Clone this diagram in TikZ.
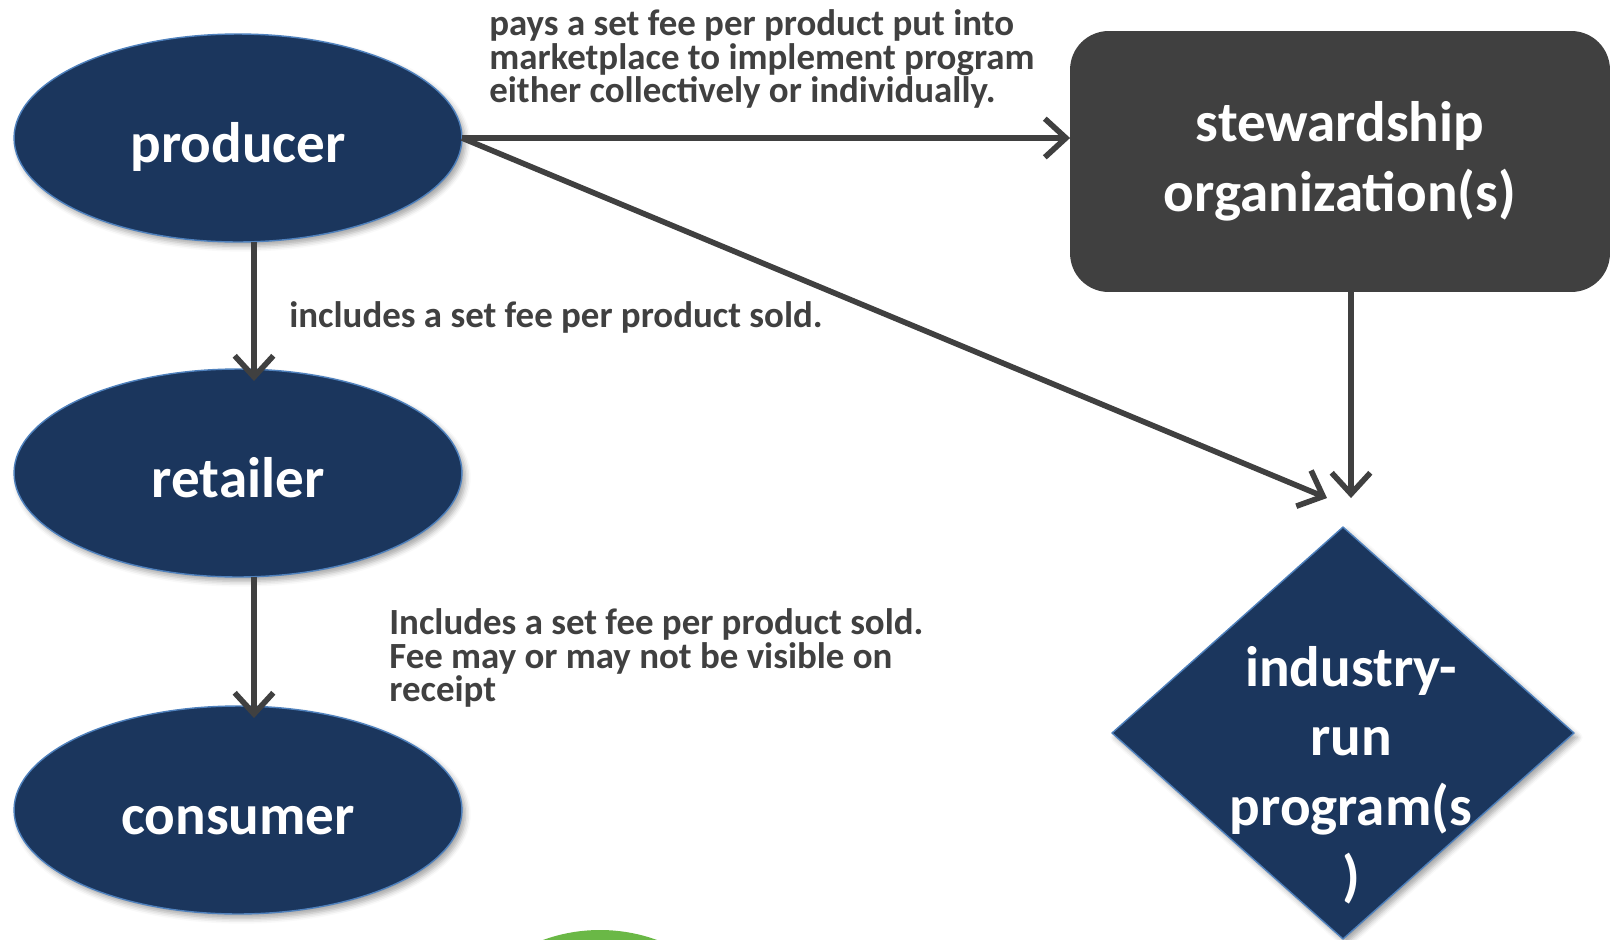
\documentclass[tikz,border=0pt]{standalone}
\usepackage{fontspec}
\setmainfont{Carlito}
\usetikzlibrary{shapes.geometric,arrows.meta,calc,shadows.blur}

\definecolor{navy}{RGB}{27,54,93}
\definecolor{rim}{RGB}{79,129,189}
\definecolor{charcoal}{RGB}{64,64,64}
\definecolor{leaf}{RGB}{106,184,70}

\tikzset{
  soft/.style={blur shadow={shadow xshift=2pt, shadow yshift=-2.5pt, shadow blur radius=3pt, shadow opacity=35}},
  actor/.style={ellipse, fill=navy, draw=rim, line width=0.8pt, soft,
    minimum width=8.96cm, minimum height=4.16cm, inner sep=0pt, outer sep=0pt,
    text height=28pt, text depth=0pt,
    text=white, font=\bfseries\fontsize{32.5}{40}\selectfont},
  board/.style={rectangle, rounded corners=22pt, fill=charcoal, align=center,
    minimum width=10.8cm, minimum height=5.22cm, inner sep=0pt, outer sep=0pt,
    text=white, font=\bfseries\fontsize{32.5}{40}\selectfont},
  gate/.style={diamond, fill=navy, draw=rim, line width=0.8pt, soft,
    minimum width=9.24cm, minimum height=8.24cm, inner sep=0pt, outer sep=0pt},
  gatetext/.style={align=center, inner sep=0pt, text=white, font=\bfseries\fontsize{32.5}{39.7}\selectfont},
  flow/.style={draw=charcoal, line width=3.2pt, -{Straight Barb[length=12pt, width=22pt]}},
  note/.style={anchor=west, align=left, inner sep=0pt, text=charcoal, font=\bfseries\fontsize{21}{19.2}\selectfont},
}

\begin{document}
\begin{tikzpicture}[x=0.02cm, y=-0.02cm]
  \useasboundingbox (0,0) rectangle (1613,940);

  \begin{scope}
    \clip (0,0) rectangle (1613,940);
    \fill[leaf] (600,1097) circle (167);
  \end{scope}

  \node[actor] (producer) at (238,138) {producer};
  \node[actor] (retailer) at (238,473) {retailer};
  \node[actor] (consumer) at (238,810) {consumer};
  \node[board] (steward) at (1340,161.5) {stewardship\\organization(s)};
  \node[gate] (program) at (1343,733) {};
  \node[gatetext] (programtext) at ($(program.center)+(8,42)$) {industry-\\run\\program(s\\)};

  \draw[flow] (producer.east) -- (producer.east -| steward.west);
  \draw[flow] (producer.east) -- ($(program.north)+(-16,-29)$);
  \draw[flow] ($(steward.south)+(11,0)$) -- ($(program.north)+(8,-29)$);
  \draw[flow] ($(producer.south)+(16,0)$) -- ($(retailer.north)+(16,12)$);
  \draw[flow] ($(retailer.south)+(16,0)$) -- ($(consumer.north)+(16,12)$);

  \node[note] (paysnote) at (489,59) {pays a set fee per product put into\\marketplace to implement program\\either collectively or individually.};
  \node[note] (soldnote) at (289,317) {includes a set fee per product sold.};
  \node[note] (receiptnote) at (389,658) {Includes a set fee per product sold.\\Fee may or may not be visible on\\receipt};
\end{tikzpicture}
\end{document}
